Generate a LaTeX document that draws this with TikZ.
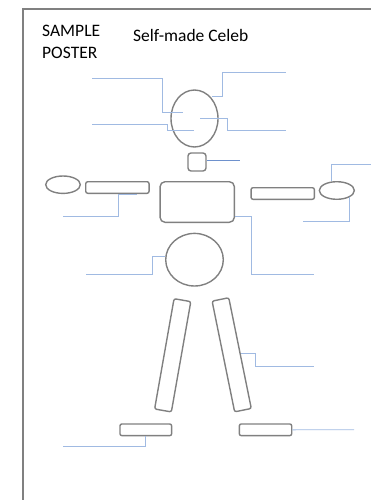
\documentclass[tikz,border=0pt]{standalone}
\usepackage{fontspec}
\setmainfont{Carlito}
\usetikzlibrary{shapes.geometric}
\definecolor{shapegray}{RGB}{128,128,128}
\definecolor{leadblue}{RGB}{160,186,226}
\definecolor{darkblue}{RGB}{110,145,205}
\begin{document}
\begin{tikzpicture}[x=1pt,y=-1pt,
  part/.style={draw=shapegray,line width=1.4pt,inner sep=0pt,fill=none},
  oval/.style={part,ellipse},
  bar/.style={part,rectangle,rounded corners=2pt},
  lead/.style={draw=leadblue,line width=0.9pt},
  darklead/.style={draw=darkblue,line width=0.9pt},
  title/.style={inner sep=0pt,font=\fontsize{17.5}{21.6}\selectfont}]
\useasboundingbox (0,0) rectangle (371,500);
% frame
\draw[shapegray,line width=2pt] (371,9) -- (23,9) -- (23,500);
% titles
\node[title,anchor=north west,align=left] (sample) at (42,25) {SAMPLE\\POSTER};
\node[title,anchor=base west] (celeb) at (133,41.5) {Self-made Celeb};
% body parts
\node[oval,minimum width=47pt,minimum height=57pt] (head) at (194.5,118.5) {};
\node[bar,rounded corners=3pt,minimum width=18pt,minimum height=18pt] (neck) at (197,162) {};
\node[oval,minimum width=34.6pt,minimum height=17.4pt] (lhand) at (63,184.7) {};
\node[bar,minimum width=63.3pt,minimum height=11.6pt] (larm) at (117.4,187.5) {};
\node[bar,rounded corners=5pt,minimum width=74.3pt,minimum height=40.6pt] (torso) at (197.2,202) {};
\node[bar,minimum width=63.3pt,minimum height=11.6pt] (rarm) at (282.7,193.5) {};
\node[oval,minimum width=35pt,minimum height=17.6pt] (rhand) at (336.8,190.5) {};
\node[oval,minimum width=57.6pt,minimum height=52.6pt] (belly) at (194.5,259.7) {};
\node[bar,minimum width=17pt,minimum height=112pt,rotate=-10] (lleg) at (172.7,355.3) {};
\node[bar,minimum width=17pt,minimum height=113pt,rotate=11.5] (rleg) at (231.7,354.8) {};
\node[bar,minimum width=51.7pt,minimum height=11.7pt] (lfoot) at (145.8,429.8) {};
\node[bar,minimum width=52.4pt,minimum height=11.7pt] (rfoot) at (265.5,429.8) {};
% free ends
\coordinate (e1) at (92,78);
\coordinate (e2) at (92,124);
\coordinate (e3) at (286,72);
\coordinate (e4) at (286,130);
\coordinate (e5) at (240,160);
\coordinate (e6) at (371,164.3);
\coordinate (e7) at (302.7,221.7);
\coordinate (e8) at (63.3,216.7);
\coordinate (e9) at (314,274);
\coordinate (e10) at (86,274);
\coordinate (e11) at (314,366);
\coordinate (e12) at (63.3,446.7);
\coordinate (e13) at (354,429.7);
% leader lines
\draw[lead] ([xshift=-11.8pt,yshift=5.8pt]head.center) -- ++(-20,0) |- (e1);
\draw[lead] ([xshift=-0.5pt,yshift=-11.5pt]head.center) -- ++(-26.5,0) |- (e2);
\draw[lead] ([xshift=17.5pt,yshift=22.5pt]head.center) -- ++(10,0) |- (e3);
\draw[lead] ([xshift=5.5pt,yshift=0.5pt]head.center) -- ++(27,0) |- (e4);
\draw[darklead] (neck.east |- e5) -- (e5);
\draw[lead] ([xshift=-5.8pt]rhand.north) |- (e6);
\draw[lead] ([xshift=12.2pt,yshift=-6.2pt]rhand.center) |- (e7);
\draw[lead] ([xshift=19.3pt]larm.south) -- ([xshift=0.9pt]larm.south) |- (e8);
\draw[lead] ([yshift=-14.7pt]torso.east) -- ++(16.4,0) |- (e9);
\draw[lead] ([yshift=3pt]belly.west) -- ++(-12.4,0) |- (e10);
\draw[lead] ([xshift=9pt,yshift=1.5pt]rleg.center) -- ++(15,0) |- (e11);
\draw[lead] (lfoot.south) |- (e12);
\draw[lead] (rfoot.east) -- (e13);
\end{tikzpicture}
\end{document}
